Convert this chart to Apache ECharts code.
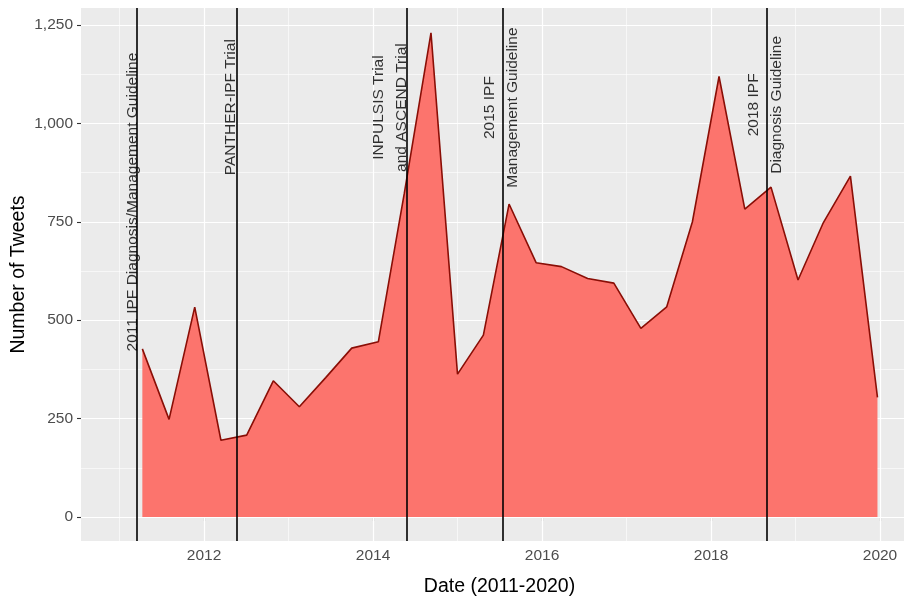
<!DOCTYPE html>
<html>
<head>
<meta charset="utf-8">
<title>IPF Tweets 2011-2020</title>
<script src="https://cdn.jsdelivr.net/npm/echarts@6/dist/echarts.min.js"></script>
<style>
  html, body { margin: 0; padding: 0; background: #ffffff; }
  #chart { width: 904px; height: 597px; }
</style>
</head>
<body>
<div id="chart"></div>
<script>
// Tweet counts per period (decimal year of each period)
const periodYears = [2011.27, 2011.586, 2011.89, 2012.20, 2012.505, 2012.82, 2013.128, 2013.44,
  2013.748, 2014.063, 2014.37, 2014.686, 2015.00, 2015.306, 2015.61, 2015.93, 2016.23, 2016.54,
  2016.85, 2017.17, 2017.476, 2017.78, 2018.095, 2018.40, 2018.71, 2019.03, 2019.33, 2019.65, 2019.97];
const tweetCounts = [427, 248, 533, 195, 208, 346, 280, 354,
  429, 445, 822, 1230, 363, 462, 795, 646, 636, 606,
  594, 479, 534, 750, 1119, 782, 838, 602, 748, 866, 304];

// Key events (decimal year) and their annotations
const eventYears = [2011.2, 2012.39, 2014.405, 2015.532, 2018.658];
const eventTexts = [
  '2011 IPF Diagnosis/Management Guideline',
  'PANTHER-IPF Trial',
  'INPULSIS Trial\nand ASCEND Trial',
  '2015 IPF\nManagement Guideline',
  '2018 IPF\nDiagnosis Guideline'
];
// Annotation anchors in data units (year, tweets)
const eventTextX = [2011.154, 2012.316, 2014.198, 2015.518, 2018.636];
const eventTextY = [800, 1041, 1040, 1040, 1047];

// Axis breaks
const xMajorBreaks = [2012, 2014, 2016, 2018, 2020];
const xMinorBreaks = [2011, 2013, 2015, 2017, 2019];
const yMajorBreaks = [0, 250, 500, 750, 1000, 1250];
const yMinorBreaks = [125, 375, 625, 875, 1125];

const FONT = '"Liberation Sans", Arial, Helvetica, sans-serif';

const chart = echarts.init(document.getElementById('chart'), null, { renderer: 'canvas' });

const majorStyle = { color: '#ffffff', width: 1.2, type: 'solid' };
const minorStyle = { color: '#ffffff', width: 0.6, type: 'solid' };

const gridLineData = []
  .concat(xMinorBreaks.map(v => ({ xAxis: v, lineStyle: minorStyle })))
  .concat(yMinorBreaks.map(v => ({ yAxis: v, lineStyle: minorStyle })))
  .concat(xMajorBreaks.map(v => ({ xAxis: v, lineStyle: majorStyle })))
  .concat(yMajorBreaks.map(v => ({ yAxis: v, lineStyle: majorStyle })));

const option = {
  animation: false,
  backgroundColor: '#ffffff',
  grid: {
    left: 81, top: 8, right: 0, bottom: 56,
    containLabel: false, outerBoundsMode: 'none',
    show: true, backgroundColor: '#EBEBEB', borderWidth: 0
  },
  xAxis: {
    type: 'value',
    min: 2010.544, max: 2020.284,
    axisLine: { show: false },
    splitLine: { show: false },
    axisTick: { show: true, customValues: xMajorBreaks, length: 4, lineStyle: { color: '#333333', width: 1.1 } },
    axisLabel: {
      customValues: xMajorBreaks, margin: 7,
      color: '#4D4D4D', fontSize: 15.5, fontFamily: FONT,
      formatter: v => String(v)
    },
    name: 'Date (2011-2020)',
    nameLocation: 'middle', nameGap: 36,
    nameTextStyle: { color: '#000000', fontSize: 19.5, fontFamily: FONT, padding: [0, 0, 0, 14] }
  },
  yAxis: {
    type: 'value',
    min: -61, max: 1293,
    axisLine: { show: false },
    splitLine: { show: false },
    axisTick: { show: true, customValues: yMajorBreaks, length: 4, lineStyle: { color: '#333333', width: 1.1 } },
    axisLabel: {
      customValues: yMajorBreaks, margin: 8,
      color: '#4D4D4D', fontSize: 15.5, fontFamily: FONT,
      formatter: v => v.toLocaleString('en-US')
    },
    name: 'Number of Tweets',
    nameLocation: 'middle', nameGap: 52, nameMoveOverlap: false,
    nameTextStyle: { color: '#000000', fontSize: 19.5, fontFamily: FONT }
  },
  series: [
    {
      // panel grid lines
      type: 'line', name: 'grid', z: 1, silent: true,
      data: [[2011, 0]], symbol: 'none', lineStyle: { width: 0 },
      markLine: {
        z: 1, silent: true, symbol: ['none', 'none'],
        label: { show: false }, emphasis: { disabled: true },
        data: gridLineData
      }
    },
    {
      type: 'line', name: 'Tweets', z: 3,
      data: periodYears.map((x, i) => [x, tweetCounts[i]]),
      symbol: 'none', smooth: false,
      lineStyle: { color: '#8A0E06', width: 1.6 },
      areaStyle: { color: '#FC746D', opacity: 1, origin: 0 }
    },
    {
      // event marker lines
      type: 'line', name: 'events', z: 4, silent: true,
      data: [[2011, 0]], symbol: 'none', lineStyle: { width: 0 },
      markLine: {
        z: 6, silent: true, symbol: ['none', 'none'],
        label: { show: false }, emphasis: { disabled: true },
        lineStyle: { color: '#000000', width: 1.6, type: 'solid' },
        data: eventYears.map(v => ({ xAxis: v }))
      }
    },
    {
      // event annotations
      type: 'scatter', name: 'annotations', z: 7, silent: true,
      symbolSize: 0,
      data: eventTexts.map((t, i) => ({ name: t, value: [eventTextX[i], eventTextY[i]] })),
      label: {
        show: true, position: 'inside', formatter: '{b}', rotate: 90,
        align: 'center', verticalAlign: 'middle',
        color: '#000000', fontSize: 15.5, lineHeight: 23, fontFamily: FONT
      }
    }
  ]
};

chart.setOption(option);
</script>
</body>
</html>
